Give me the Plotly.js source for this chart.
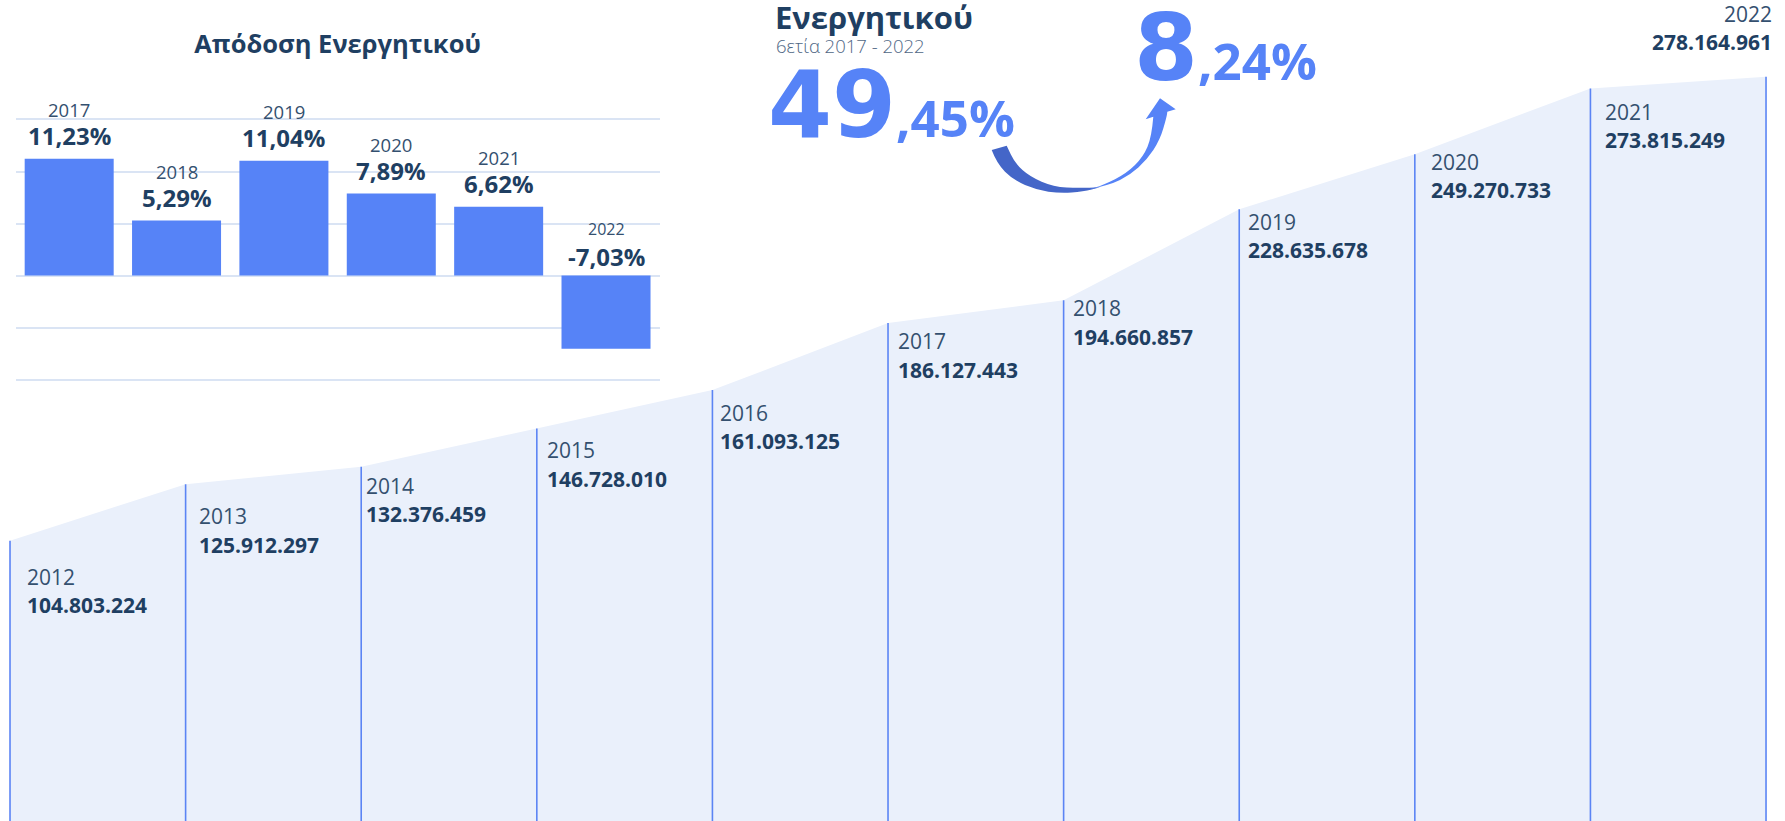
<!DOCTYPE html>
<html><head><meta charset="utf-8">
<script src="https://cdn.plot.ly/plotly-3.0.1.min.js"></script>
<style>html,body{margin:0;padding:0;background:#fff;overflow:hidden}#chart{width:1785px;height:821px}</style>
</head><body><div id="chart"></div>
<script>
// ---------- DATA ----------
const assetYears = [2012, 2013, 2014, 2015, 2016, 2017, 2018, 2019, 2020, 2021, 2022];
const assetValues = [104803224, 125912297, 132376459, 146728010, 161093125, 186127443, 194660857, 228635678, 249270733, 273815249, 278164961];
const returnYears = ['2017', '2018', '2019', '2020', '2021', '2022'];
const returnValues = [11.23, 5.29, 11.04, 7.89, 6.62, -7.03];
const returnTitle = 'Απόδοση Ενεργητικού';
const headerTitle = 'Ενεργητικού';
const headerSub = '6ετία 2017 - 2022';
const growthPct = 49.45;
const avgPct = 8.24;

// ---------- LAYOUT CONFIG (positions / styles) ----------
const W = 1785, H = 821;
const BLUE = '#5683F7', DARKBLUE = '#4466C8', NAVY = '#1F3F62', YEARC = '#34506F';
const FONT = 'Open Sans, Noto Sans, sans-serif';
const NUMFONT = 'DejaVu Sans, Noto Sans, sans-serif';
// per-label offsets (px): [xshift, year centre below area top]
const labelShift = [[14.5,36],[11,32.3],[2.5,18.8],[8,22],[5.5,22.9],[7.5,18.2],[7,8],[6.5,12.5],[14.5,7.4],[12.5,23],[8,-63.3]];
const px = (x, y) => [x / W, 1 - y / H];

function fmtDots(v) { return String(v).replace(/\B(?=(\d{3})+(?!\d))/g, '.'); }
function fmtPct(v) { return v.toFixed(2).replace('.', ',') + '%'; }

function smooth(pts, start) {
  let d = start ? 'M' + pts[0].join(',') : 'L' + pts[0].join(',');
  for (let i = 1; i < pts.length - 1; i++) {
    const m = [(pts[i][0] + pts[i + 1][0]) / 2, (pts[i][1] + pts[i + 1][1]) / 2];
    d += ' Q' + pts[i].join(',') + ' ' + m.join(',');
  }
  d += ' L' + pts[pts.length - 1].join(',');
  return d;
}
const P = arr => arr.map(p => px(p[0], p[1]));

// ---------- TRACES ----------
const area = {
  type: 'scatter', x: assetYears, y: assetValues.map(v => v / 1e6),
  mode: 'lines', line: {width: 0, color: '#EAF0FB'}, fill: 'tozeroy', fillcolor: '#EAF0FB',
  hoverinfo: 'skip', xaxis: 'x', yaxis: 'y', showlegend: false
};
const vx = [], vy = [];
assetYears.forEach((yr, i) => { vx.push(yr, yr, null); vy.push(0, assetValues[i] / 1e6, null); });
const stems = {
  type: 'scatter', x: vx, y: vy, mode: 'lines', line: {color: '#5B84F4', width: 1.6},
  hoverinfo: 'skip', xaxis: 'x', yaxis: 'y', showlegend: false
};
const barIdx = returnYears.map((_, i) => i);
const bars = {
  type: 'bar', x: barIdx, y: returnValues, marker: {color: BLUE, line: {width: 0}},
  xaxis: 'x2', yaxis: 'y2', hoverinfo: 'skip', showlegend: false
};

// ---------- ANNOTATIONS ----------
const ann = [];
assetYears.forEach((yr, i) => {
  const last = i === assetYears.length - 1;
  const [dx, dy] = labelShift[i];
  const base = {xref: 'x', yref: 'y', x: yr, y: assetValues[i] / 1e6, showarrow: false,
    xanchor: last ? 'right' : 'left', yanchor: 'middle', xshift: dx};
  ann.push(Object.assign({}, base, {text: String(yr), yshift: -dy,
    font: {family: FONT, size: 21, color: YEARC}}));
  ann.push(Object.assign({}, base, {text: '<b>' + fmtDots(assetValues[i]) + '</b>', yshift: -(dy + 28.5),
    font: {family: FONT, size: 21, color: NAVY}}));
});
returnYears.forEach((yr, i) => {
  const v = returnValues[i];
  const base = {xref: 'x2', yref: 'y2', x: barIdx[i], y: Math.max(v, 0), showarrow: false, xanchor: 'center', yanchor: 'middle'};
  ann.push(Object.assign({}, base, {text: yr, yshift: v < 0 ? 46.5 : 49,
    font: {family: FONT, size: v < 0 ? 16 : 18.5, color: YEARC}}));
  ann.push(Object.assign({}, base, {text: '<b>' + fmtPct(v) + '</b>', yshift: v < 0 ? 19.6 : 23,
    font: {family: FONT, size: 24, color: NAVY}}));
});
// header block
const pp = (x, y) => { const p = px(x, y); return {x: p[0], y: p[1]}; };
ann.push(Object.assign({xref: 'paper', yref: 'paper', showarrow: false, xanchor: 'left', yanchor: 'middle',
  text: '<b>' + headerTitle + '</b>', font: {family: FONT, size: 31, color: NAVY}}, pp(773, 17)));
ann.push(Object.assign({xref: 'paper', yref: 'paper', showarrow: false, xanchor: 'left', yanchor: 'middle',
  text: headerSub, font: {family: FONT, size: 18.5, color: '#4F6785', weight: 300}}, pp(774, 46)));
function bigNum(v) {
  const s = v.toFixed(2).split('.');
  return '<b>' + s[0] + '<span style="font-size:51px;font-family:Open Sans">,' + s[1] + '%</span></b>';
}
ann.push(Object.assign({xref: 'paper', yref: 'paper', showarrow: false, xanchor: 'left', yanchor: 'middle',
  text: bigNum(growthPct), font: {family: NUMFONT, size: 92, color: BLUE}}, pp(766, 106)));
ann.push(Object.assign({xref: 'paper', yref: 'paper', showarrow: false, xanchor: 'left', yanchor: 'middle',
  text: bigNum(avgPct), font: {family: NUMFONT, size: 92, color: BLUE}}, pp(1132, 48)));

// ---------- ARROW SHAPES ----------
const darkOuter = [[991.7,150],[996.7,163.3],[1013.3,180],[1036.7,190],[1060,193.3],[1083.3,191.7],[1100,187.3]];
const darkInner = [[1006.7,145.7],[1015,163.3],[1030,176.7],[1053.3,186.7],[1080,188.3],[1100,187.3]];
const darkPath = smooth(P(darkOuter), true) + ' ' + smooth(P(darkInner.slice().reverse()), false) + ' Z';
const lightOuter = [[1086.7,190],[1110,185],[1130,175],[1146.7,160],[1160,140],[1166.7,116.7],[1167.3,111.7]];
const head = [[1175.7,109.3],[1160,98.3],[1145.7,119.3],[1153.3,116.7]];
const lightInner = [[1153.3,116.7],[1151.7,136.7],[1143.3,156.7],[1126.7,173.3],[1103.3,185],[1086.7,190]];
const lightPath = smooth(P(lightOuter), true) + ' ' + P(head).map(p => 'L' + p.join(',')).join(' ') + ' ' +
  smooth(P(lightInner), false) + ' Z';
const shapes = [
  {type: 'path', xref: 'paper', yref: 'paper', path: darkPath, fillcolor: DARKBLUE, line: {width: 0}},
  {type: 'path', xref: 'paper', yref: 'paper', path: lightPath, fillcolor: BLUE, line: {width: 0}}
];

// ---------- LAYOUT ----------
const barTop = 114.25, barBot = 384.9;
const layout = {
  width: W, height: H, margin: {l: 0, r: 0, t: 0, b: 0, pad: 0},
  paper_bgcolor: '#fff', plot_bgcolor: 'rgba(0,0,0,0)',
  title: {text: '<b>' + returnTitle + '</b>', x: 337.6 / W, xanchor: 'center', y: 1 - 44 / H, yanchor: 'middle',
    yref: 'container', font: {family: FONT, size: 25.5, color: NAVY}},
  xaxis: {domain: [0, 1], range: [2011.943, 2022.108], visible: false, fixedrange: true},
  yaxis: {domain: [0, 1], range: [0, 306.9], visible: false, fixedrange: true},
  xaxis2: {domain: [15.5 / W, 659.7 / W], anchor: 'y2', type: 'linear', range: [-0.5, 5.5], showticklabels: false,
    showgrid: false, zeroline: false, showline: false, ticks: ''},
  yaxis2: {domain: [1 - barBot / H, 1 - barTop / H], anchor: 'x2', type: 'linear', range: [-10.5, 15.5], dtick: 5, tick0: 0,
    showticklabels: false, showgrid: true, gridcolor: '#DAE4F4', gridwidth: 2, zeroline: false, showline: false, ticks: ''},
  bargap: 0.171,
  annotations: ann, shapes: shapes, showlegend: false
};
Plotly.newPlot('chart', [area, stems, bars], layout, {displayModeBar: false, staticPlot: true});
</script></body></html>
